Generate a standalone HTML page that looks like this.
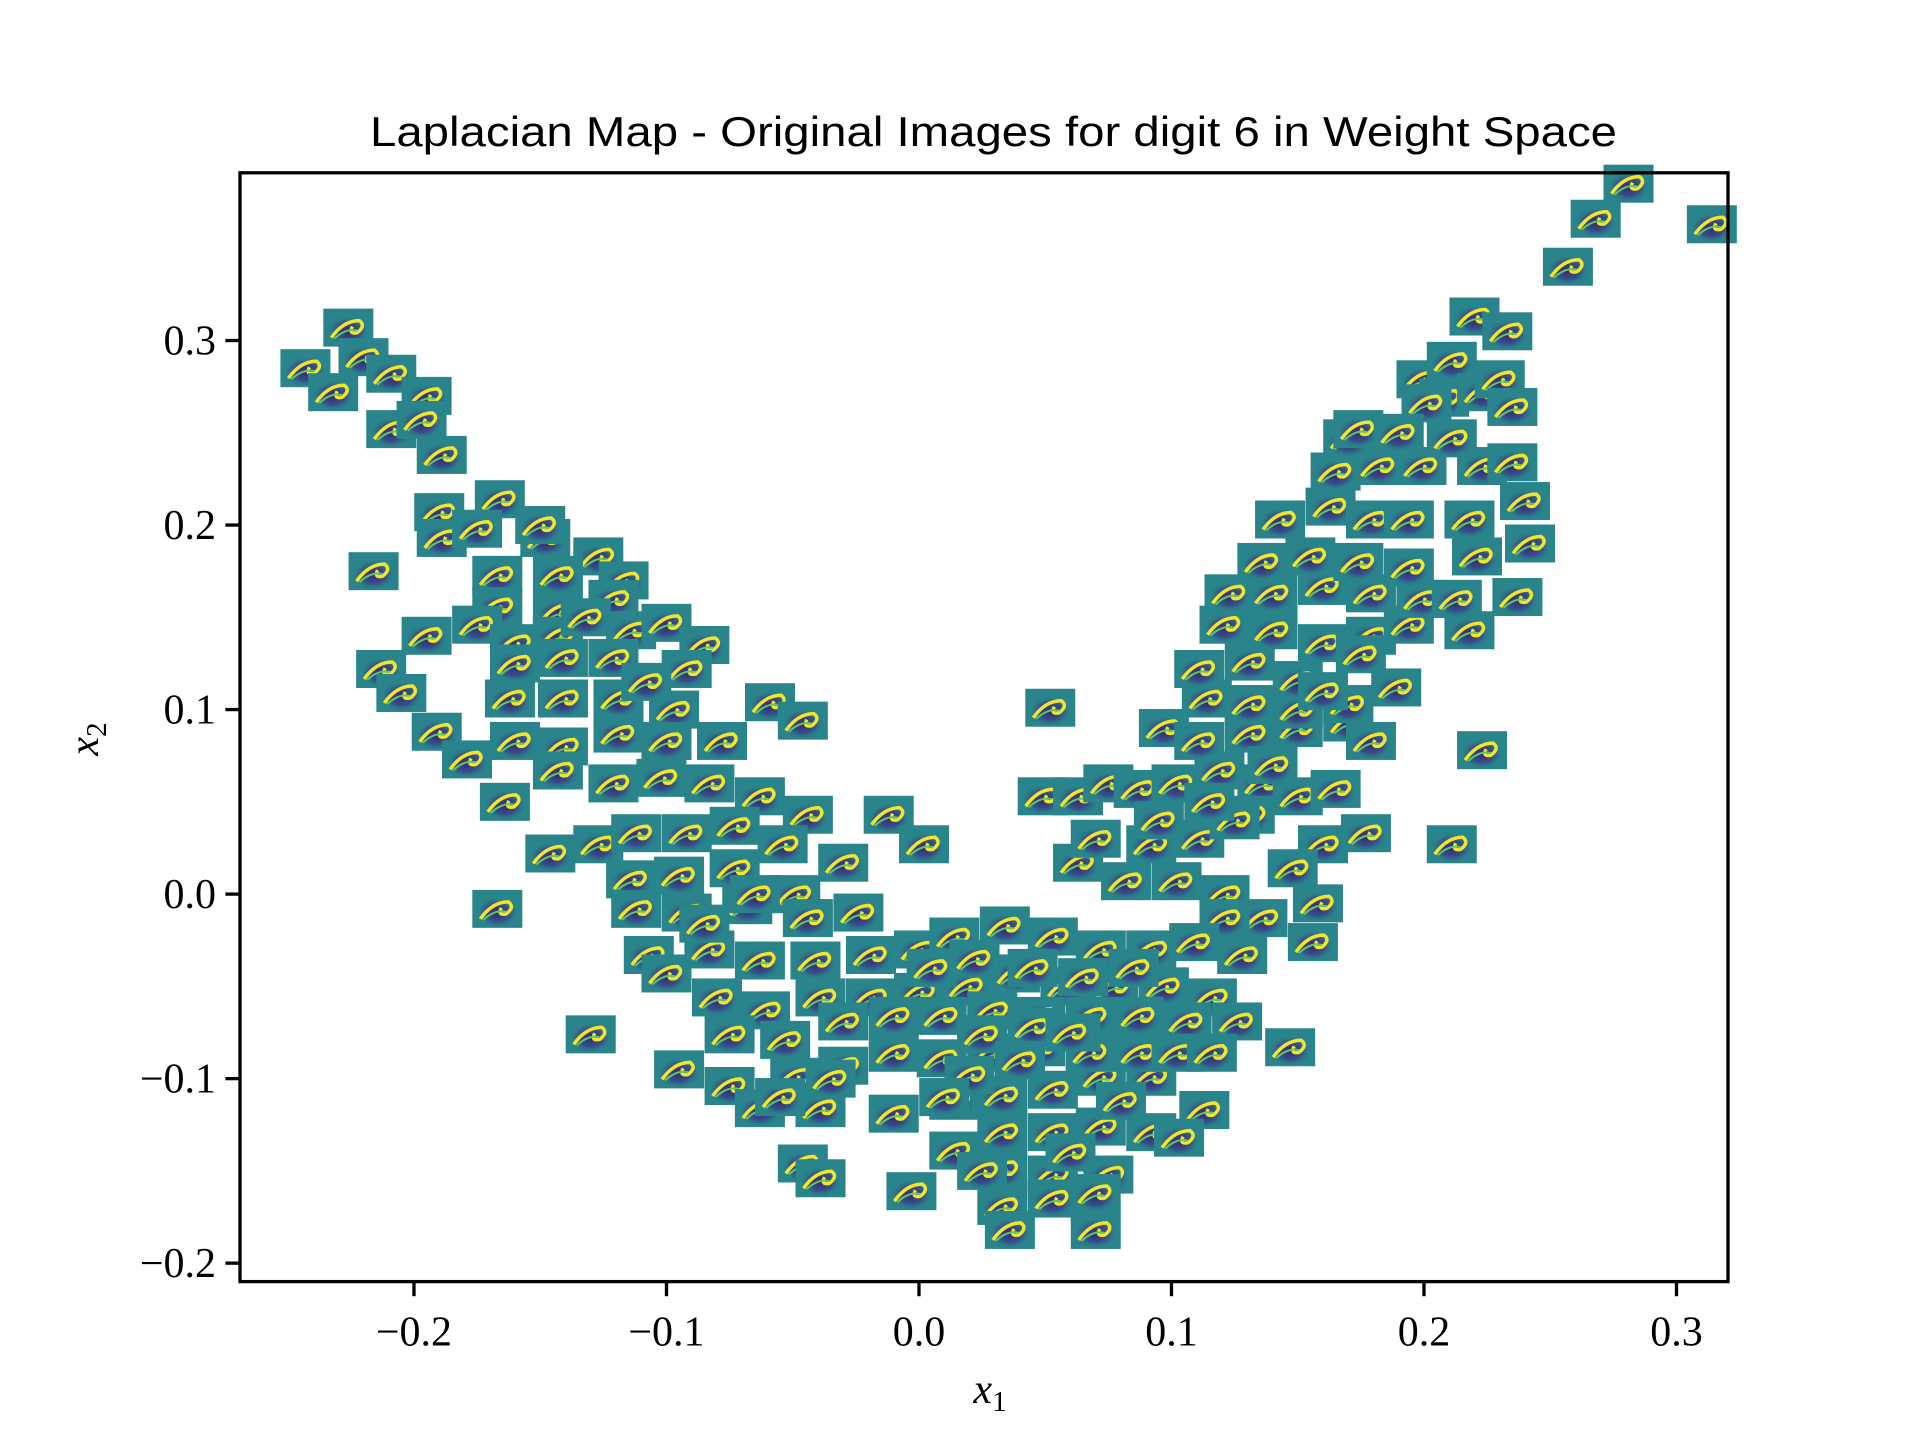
<!DOCTYPE html>
<html><head><meta charset="utf-8"><style>
html,body{margin:0;padding:0;background:#fff;}
svg{display:block;}
</style></head><body>
<svg id="chart" width="1920" height="1440" viewBox="0 0 1920 1440" xmlns="http://www.w3.org/2000/svg">
<defs>
<radialGradient id="blob" cx="0.5" cy="0.55" r="0.5">
<stop offset="0" stop-color="#3a2670"/><stop offset="0.55" stop-color="#34508a"/><stop offset="1" stop-color="#2a8a8a" stop-opacity="0"/>
</radialGradient>
<g id="thumb">
<rect x="-25" y="-19" width="50" height="38" fill="#29858b"/>
<ellipse cx="0" cy="2" rx="22" ry="16" fill="url(#blob)"/>
<path d="M-17 10 Q-5 -7 11 -7 Q18 -2 9 5 Q0 7 4 -1" fill="none" stroke="#f2e52a" stroke-width="3.5"/>
<path d="M-14 11 Q-2 0 9 3" fill="none" stroke="#5cc86a" stroke-width="2"/>
</g>
</defs>
<text x="370" y="146" font-family="Liberation Sans, sans-serif" font-size="42" textLength="1247" lengthAdjust="spacingAndGlyphs">Laplacian Map - Original Images for digit 6 in Weight Space</text>
<g id="marks"></g>
<g id="axes"></g>
<text x="990" y="1403" text-anchor="middle" font-family="Liberation Serif, serif" font-style="italic" font-size="42">x<tspan font-size="29" dy="8" font-style="normal">1</tspan></text>
<text transform="translate(98,739) rotate(-90)" text-anchor="middle" font-family="Liberation Serif, serif" font-style="italic" font-size="42">x<tspan font-size="29" dy="8" font-style="normal">2</tspan></text>
</svg>
<script>
const xTicks = [-0.2, -0.1, 0.0, 0.1, 0.2, 0.3];
const xTickLabels = ["\u22120.2", "\u22120.1", "0.0", "0.1", "0.2", "0.3"];
const yTicks = [-0.2, -0.1, 0.0, 0.1, 0.2, 0.3];
const yTickLabels = ["\u22120.2", "\u22120.1", "0.0", "0.1", "0.2", "0.3"];
const xs = [-0.226,-0.243,-0.232,-0.220,-0.209,-0.195,-0.209,-0.197,-0.189,
-0.190,-0.166,-0.189,-0.175,-0.148,-0.127,-0.216,-0.167,-0.143,-0.117,-0.167,-0.143,-0.121,-0.195,-0.175,-0.160,-0.143,-0.114,-0.100,-0.085,-0.213,-0.205,-0.160,-0.141,-0.121,-0.092,-0.162,-0.141,-0.119,-0.097,-0.059,-0.046,-0.191,-0.179,-0.160,-0.141,-0.119,-0.100,-0.078,-0.164,-0.143,-0.121,-0.102,-0.083,-0.063,-0.044,-0.012,0.002,-0.146,-0.127,-0.112,-0.092,-0.073,-0.054,-0.030,-0.167,-0.114,-0.095,-0.073,-0.049,-0.112,-0.092,-0.068,-0.044,-0.024,-0.107,-0.100,-0.083,-0.063,-0.041,-0.019,0.000,-0.080,-0.061,-0.039,-0.019,0.000,0.019,-0.130,-0.075,-0.053,-0.030,-0.010,0.009,0.029,-0.095,-0.075,-0.049,-0.030,-0.010,0.009,0.029,0.048,-0.063,-0.039,-0.010,0.014,0.033,0.053,0.072,0.092,-0.046,-0.039,-0.003,0.014,0.033,0.053,0.072,0.092,0.113,0.103,0.033,0.053,0.075,0.033,0.053,0.070,0.036,0.070,
0.014,0.034,0.053,0.072,0.092,0.038,0.058,0.077,0.097,0.116,0.048,0.068,0.087,0.106,0.126,0.147,0.068,0.087,0.102,0.116,
0.052,0.049,0.063,0.075,0.087,0.102,0.119,0.136,0.097,0.111,0.131,0.150,0.170,0.179,0.223,0.211,0.177,0.160,0.148,0.158,0.156,0.136,0.121,0.102,0.082,0.063,0.070,0.092,0.111,0.131,0.150,0.165,0.121,0.128,0.109,0.114,0.131,0.150,0.170,0.111,0.131,0.150,0.189,0.121,0.140,0.160,0.179,0.194,0.218,0.237,0.123,0.140,0.160,0.179,0.199,0.213,0.136,0.155,0.174,0.194,0.221,0.242,0.143,0.163,0.179,0.194,0.218,0.240,0.165,0.182,0.199,0.223,0.235,0.170,0.211,0.174,0.199,0.211,0.208,0.201,0.223,0.230,0.235,0.220,0.233,0.257,0.268,0.281,0.314,
-0.055,-0.035,0.025,0.045,0.062,0.080,0.020,0.040,0.060,0.005,0.022,0.045,0.065,0.085,-0.085,-0.065,0.010,0.025,0.060,-0.132,-0.150,-0.108,0.140,0.125,0.095,0.175,0.190,0.160,0.115];
const ys = [0.307,0.285,0.272,0.291,0.282,0.270,0.252,0.257,0.238,
0.207,0.214,0.193,0.198,0.193,0.183,0.175,0.173,0.173,0.170,0.156,0.153,0.160,0.140,0.146,0.136,0.140,0.143,0.147,0.135,0.122,0.109,0.125,0.128,0.128,0.122,0.106,0.106,0.106,0.100,0.104,0.094,0.088,0.073,0.083,0.080,0.087,0.083,0.083,0.050,0.067,0.060,0.063,0.060,0.053,0.043,0.043,0.027,0.022,0.027,0.033,0.033,0.037,0.027,0.017,-0.008,0.008,0.010,0.014,0.000,-0.008,-0.010,-0.006,-0.013,-0.010,-0.033,-0.043,-0.030,-0.036,-0.036,-0.033,-0.030,-0.056,-0.063,-0.056,-0.056,-0.053,-0.050,-0.076,-0.076,-0.079,-0.069,-0.066,-0.066,-0.063,-0.095,-0.104,-0.099,-0.093,-0.086,-0.089,-0.086,-0.083,-0.116,-0.116,-0.119,-0.112,-0.109,-0.106,-0.099,-0.099,-0.146,-0.154,-0.161,-0.139,-0.129,-0.129,-0.126,-0.129,-0.117,-0.132,-0.149,-0.152,-0.152,-0.169,-0.165,-0.162,-0.182,-0.182,
-0.023,-0.017,-0.023,-0.030,-0.030,-0.043,-0.050,-0.050,-0.050,-0.056,-0.066,-0.066,-0.066,-0.069,-0.069,-0.083,-0.086,-0.086,-0.086,-0.086,
0.101,0.053,0.053,0.060,0.057,0.060,0.067,0.060,0.090,0.083,0.087,0.090,0.093,0.083,0.078,0.027,0.033,0.027,0.014,-0.005,-0.026,-0.013,0.000,0.007,0.007,0.017,0.030,0.027,0.030,0.043,0.053,0.057,-0.013,-0.033,-0.026,0.106,0.103,0.100,0.103,0.122,0.126,0.116,0.112,0.146,0.143,0.136,0.140,0.146,0.143,0.161,0.163,0.163,0.167,0.163,0.160,0.160,0.180,0.183,0.180,0.177,0.183,0.190,0.203,0.210,0.203,0.203,0.203,0.213,0.229,0.232,0.232,0.232,0.234,0.247,0.247,0.252,0.279,0.289,0.269,0.266,0.272,0.279,0.264,0.313,0.305,0.340,0.366,0.385,0.363,
-0.110,-0.100,-0.076,-0.072,-0.075,-0.112,-0.098,-0.090,-0.140,-0.040,-0.035,-0.040,-0.045,-0.040,-0.016,0.000,-0.110,-0.150,-0.075,0.150,0.200,0.115,0.070,0.040,0.040,0.130,0.250,0.110,0.050];

const L=240,R=1728,T=172.8,B=1281.6;
const xMin=-0.2689,xMax=0.3204,yMin=-0.21,yMax=0.3909;
function xScale(v){return L+(v-xMin)/(xMax-xMin)*(R-L);}
function yScale(v){return B-(v-yMin)/(yMax-yMin)*(B-T);}
const NS="http://www.w3.org/2000/svg";
const marks=document.getElementById('marks');
for(let i=0;i<xs.length;i++){
  const u=document.createElementNS(NS,'use');
  u.setAttribute('href','#thumb');
  u.setAttribute('x',xScale(xs[i]));
  u.setAttribute('y',yScale(ys[i]));
  
  
  marks.appendChild(u);
}
const axes=document.getElementById('axes');
function mk(tag,attrs){const e=document.createElementNS(NS,tag);for(const k in attrs)e.setAttribute(k,attrs[k]);return e;}
const frame=mk('rect',{x:L,y:T,width:R-L,height:B-T,fill:'none',stroke:'#000','stroke-width':3.3});


axes.appendChild(frame);
xTicks.forEach((v,i)=>{
  const x=xScale(v);
  const t=mk('line',{x1:x,x2:x,y1:B,y2:B+14.6,stroke:'#000','stroke-width':3.3});
  
  
  axes.appendChild(t);
  const tx=mk('text',{x:x,y:B+64,'text-anchor':'middle','font-family':'Liberation Serif, serif','font-size':42});
  
  
  tx.textContent=xTickLabels[i];
  axes.appendChild(tx);
});
yTicks.forEach((v,i)=>{
  const y=yScale(v);
  const t=mk('line',{x1:L-14.6,x2:L,y1:y,y2:y,stroke:'#000','stroke-width':3.3});
  
  
  axes.appendChild(t);
  const tx=mk('text',{x:L-24,y:y+14,'text-anchor':'end','font-family':'Liberation Serif, serif','font-size':42});
  
  
  tx.textContent=yTickLabels[i];
  axes.appendChild(tx);
});
</script>
</body></html>
